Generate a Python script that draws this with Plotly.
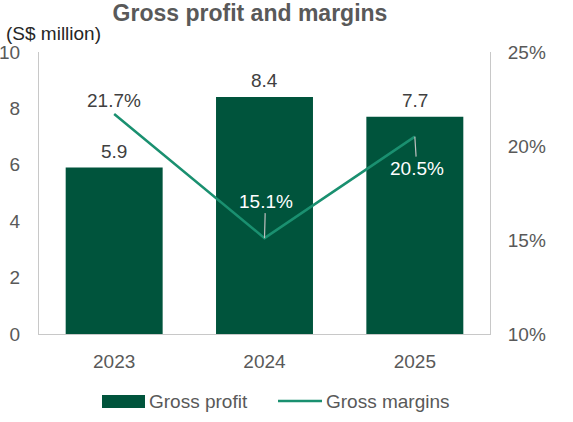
import plotly.graph_objects as go

years = ["2023", "2024", "2025"]
gross_profit = [5.9, 8.4, 7.7]
gross_margin = [21.7, 15.1, 20.5]
profit_labels = ["5.9", "8.4", "7.7"]
margin_labels = ["21.7%", "15.1%", "20.5%"]
left_ticks = [0, 2, 4, 6, 8, 10]
right_ticks = [10, 15, 20, 25]
series_names = ["Gross profit", "Gross margins"]

BAR = "#00543c"
LINE = "#1a9070"
GRAY = "#595959"
AX = "#c8c8c8"
FONT = "Liberation Sans, Arial, sans-serif"
FS = 19

W, H = 573, 422
L, R, T, B = 39, 83, 52, 88
PW, PH = W - L - R, H - T - B


def px(x):
    return (x - L) / PW


def py(y):
    return (H - B - y) / PH


fig = go.Figure()
fig.add_trace(go.Bar(x=years, y=gross_profit, name=series_names[0],
                     marker=dict(color=BAR, line=dict(width=0)), width=0.645,
                     showlegend=False))
fig.add_trace(go.Scatter(x=years, y=gross_margin, name=series_names[1], yaxis="y2",
                         mode="lines", line=dict(color=LINE, width=2.5),
                         showlegend=False))

# category axis: annotation x given as category index
ann = []
for i, (v, t) in enumerate(zip(gross_profit, profit_labels)):
    ann.append(dict(x=i, y=v, xref="x", yref="y", text=t, showarrow=False,
                    yanchor="bottom", yshift=4, font=dict(size=FS, color="#404040")))
ann.append(dict(x=0, y=gross_margin[0], xref="x", yref="y2", text=margin_labels[0],
                showarrow=False, yshift=14, font=dict(size=FS, color="#404040")))
ann.append(dict(x=1, y=gross_margin[1], xref="x", yref="y2", text=margin_labels[1],
                showarrow=True, arrowhead=0, arrowwidth=1.2, arrowcolor="#bfbfbf",
                ax=1, ay=-37, standoff=0, font=dict(size=FS, color="white")))
ann.append(dict(x=2, y=gross_margin[2], xref="x", yref="y2", text=margin_labels[2],
                showarrow=True, arrowhead=0, arrowwidth=1.2, arrowcolor="#bfbfbf",
                ax=2, ay=32, standoff=0, font=dict(size=FS, color="white")))
ann.append(dict(x=px(4), y=py(33), xref="paper", yref="paper", xanchor="left",
                yanchor="middle", text="(S$ million)", showarrow=False,
                font=dict(size=19, color="#262626")))

# custom legend (wide bar swatch like the original)
shapes = [
    dict(type="rect", xref="paper", yref="paper", x0=px(102), x1=px(145),
         y0=py(408), y1=py(395), fillcolor=BAR, line=dict(width=0)),
    dict(type="line", xref="paper", yref="paper", x0=px(278), x1=px(322),
         y0=py(401), y1=py(401), line=dict(color=LINE, width=2.5)),
]
ann.append(dict(x=px(147), y=py(401), xref="paper", yref="paper", xanchor="left",
                yanchor="middle", text=series_names[0], showarrow=False,
                font=dict(size=FS, color=GRAY)))
ann.append(dict(x=px(324), y=py(401), xref="paper", yref="paper", xanchor="left",
                yanchor="middle", text=series_names[1], showarrow=False,
                font=dict(size=FS, color=GRAY)))

fig.update_layout(
    width=W, height=H,
    margin=dict(l=L, r=R, t=T, b=B, autoexpand=False),
    paper_bgcolor="white", plot_bgcolor="white",
    font=dict(family=FONT, size=FS, color=GRAY),
    title=dict(text="<b>Gross profit and margins</b>", x=250 / W, xanchor="center",
               y=1 - 13 / H, yanchor="middle", font=dict(size=23, color=GRAY, family=FONT)),
    xaxis=dict(type="category", showline=True, linecolor=AX, linewidth=1, showgrid=False,
               ticks="", tickfont=dict(size=FS, color=GRAY), ticklabelstandoff=10),
    yaxis=dict(range=[0, 10], tickvals=left_ticks, showgrid=False, zeroline=False,
               showline=True, linecolor=AX, linewidth=1, ticks="",
               tickfont=dict(size=FS, color=GRAY), ticklabelstandoff=14),
    yaxis2=dict(range=[10, 25], tickvals=right_ticks, ticktext=[f"{v}%" for v in right_ticks],
                overlaying="y", side="right", showgrid=False, zeroline=False,
                showline=True, linecolor=AX, linewidth=1, ticks="",
                tickfont=dict(size=FS, color=GRAY), ticklabelstandoff=13),
    annotations=ann,
    shapes=shapes,
    showlegend=False,
)

fig.write_html("out.html")
